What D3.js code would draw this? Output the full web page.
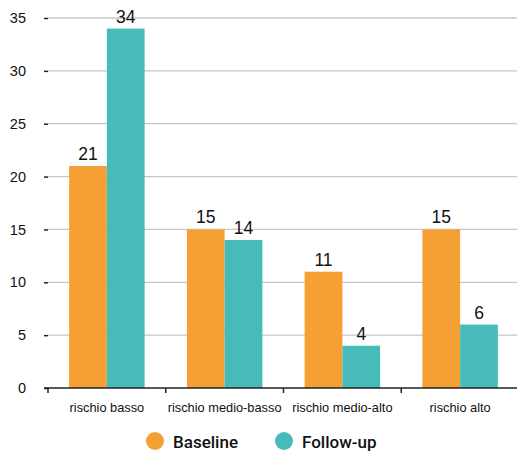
<!doctype html>
<html lang="it">
<head>
<meta charset="utf-8">
<title>Rischio</title>
<script src="https://d3js.org/d3.v7.min.js"></script>
<style>
  body { margin: 0; background: #fff; }
  svg { display: block; }
</style>
</head>
<body>
<svg id="chart" width="517" height="455"></svg>
<script>
  // data
  var categories = ["rischio basso", "rischio medio-basso", "rischio medio-alto", "rischio alto"];
  var seriesNames = ["Baseline", "Follow-up"];
  var baseline = [21, 15, 11, 15];
  var followUp = [34, 14, 4, 6];
  var yTicks = [0, 5, 10, 15, 20, 25, 30, 35];
  var colors = ["#f5a035", "#47bbb9"];

  var svg = d3.select("#chart");
  var plotLeft = 48, plotRight = 519, plotTop = 18, plotBottom = 388;

  var x0 = d3.scaleBand().domain(categories).range([plotLeft, plotRight]);
  var x1 = d3.scaleBand().domain(seriesNames).range([0, x0.bandwidth()]).paddingInner(0).paddingOuter(0.56);
  var y = d3.scaleLinear().domain([0, 35]).range([plotBottom, plotTop]);

  // gridlines
  svg.append("g").selectAll("line")
    .data(yTicks.filter(function(d) { return d > 0; }))
    .enter().append("line")
    .attr("x1", plotLeft).attr("x2", 517)
    .attr("y1", function(d) { return y(d); })
    .attr("y2", function(d) { return y(d); })
    .attr("stroke", "#c6c6c6").attr("stroke-width", 1.3);

  // y axis: tick marks + labels, no domain line
  var yAxis = svg.append("g").attr("transform", "translate(" + plotLeft + ",0)")
    .call(d3.axisLeft(y).tickValues(yTicks).tickSize(4).tickPadding(18));
  yAxis.select(".domain").remove();
  yAxis.selectAll("line").attr("stroke", "#222").attr("stroke-width", 1.5);
  yAxis.selectAll("text").attr("font-family", "Liberation Sans, Arial, sans-serif").attr("font-size", 14.5).attr("fill", "#111");

  var rows = categories.map(function(c, i) {
    return { cat: c, values: [{ key: seriesNames[0], v: baseline[i] }, { key: seriesNames[1], v: followUp[i] }] };
  });

  var groups = svg.append("g").selectAll("g")
    .data(rows).enter().append("g")
    .attr("transform", function(d) { return "translate(" + x0(d.cat) + ",0)"; });

  groups.selectAll("rect")
    .data(function(d) { return d.values; })
    .enter().append("rect")
    .attr("x", function(d) { return x1(d.key); })
    .attr("y", function(d) { return y(d.v); })
    .attr("width", x1.bandwidth())
    .attr("height", function(d) { return plotBottom - y(d.v); })
    .attr("fill", function(d, i) { return colors[i]; });

  groups.selectAll("text")
    .data(function(d) { return d.values; })
    .enter().append("text")
    .attr("x", function(d) { return x1(d.key) + x1.bandwidth() / 2; })
    .attr("y", function(d) { return y(d.v) - 6; })
    .attr("text-anchor", "middle")
    .attr("font-family", "Liberation Sans, Arial, sans-serif")
    .attr("font-size", 17.5)
    .attr("fill", "#111")
    .text(function(d) { return d.v; });

  // x axis line and boundary ticks
  svg.append("line").attr("x1", plotLeft - 4).attr("x2", 517)
    .attr("y1", plotBottom).attr("y2", plotBottom)
    .attr("stroke", "#222").attr("stroke-width", 1.5);
  svg.append("g").selectAll("line")
    .data(categories).enter().append("line")
    .attr("x1", function(d) { return x0(d); }).attr("x2", function(d) { return x0(d); })
    .attr("y1", plotBottom).attr("y2", plotBottom + 5)
    .attr("stroke", "#222").attr("stroke-width", 1.5);
  svg.append("g").selectAll("text")
    .data(categories).enter().append("text")
    .attr("x", function(d) { return x0(d) + x0.bandwidth() / 2; })
    .attr("y", 412)
    .attr("text-anchor", "middle")
    .attr("font-family", "Liberation Sans, Arial, sans-serif")
    .attr("font-size", 12.8)
    .attr("fill", "#111")
    .text(function(d) { return d; });

  // legend
  var legendX = [155, 284];
  var legend = svg.append("g").selectAll("g")
    .data(seriesNames).enter().append("g")
    .attr("transform", function(d, i) { return "translate(" + legendX[i] + ",441)"; });
  legend.append("circle").attr("r", 9).attr("fill", function(d, i) { return colors[i]; });
  legend.append("text")
    .attr("x", 18).attr("y", 6.5)
    .attr("font-family", "Roboto, sans-serif")
    .attr("font-weight", 500)
    .attr("font-size", 17)
    .attr("fill", "#111")
    .text(function(d) { return d; });
</script>
</body>
</html>
